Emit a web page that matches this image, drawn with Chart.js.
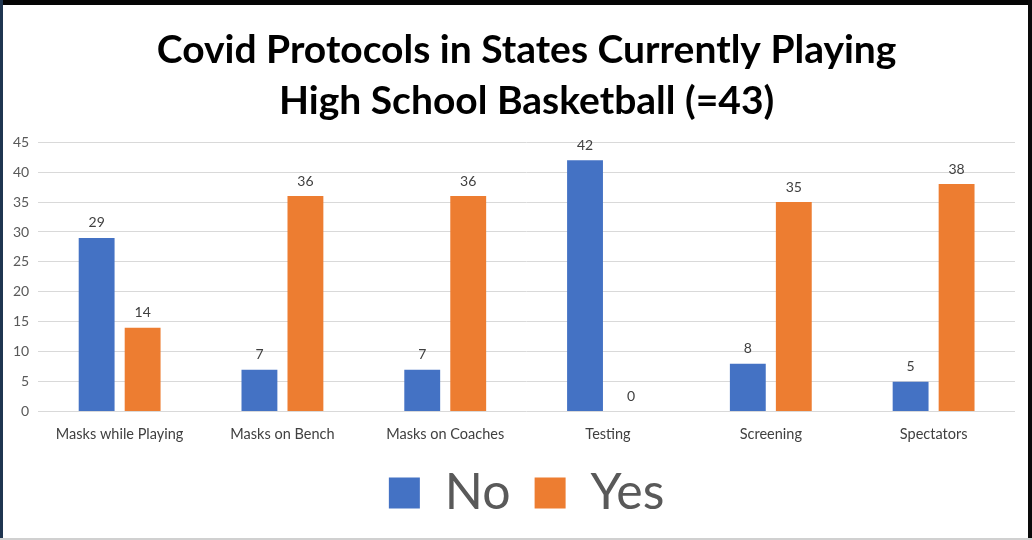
<!DOCTYPE html>
<html>
<head>
<meta charset="utf-8">
<script src="https://cdn.jsdelivr.net/npm/chart.js@4.4.1/dist/chart.umd.min.js"></script>
<style>
  html, body { margin: 0; padding: 0; background: #ffffff; }
  #wrap { position: relative; width: 1032px; height: 540px; overflow: hidden; background: #fff; }
  canvas { position: absolute; left: 0; top: 0; }
  .frame { position: absolute; }
</style>
</head>
<body>
<div id="wrap">
  <canvas id="c" width="1032" height="540"></canvas>
  <div class="frame" style="left:0;top:0;width:1032px;height:5px;background:#050505;"></div>
  <div class="frame" style="left:0;top:0;width:3px;height:540px;background:#1f3550;"></div>
  <div class="frame" style="right:0;top:0;width:4px;height:540px;background:#0a0a0a;"></div>
  <div class="frame" style="left:0;bottom:0;width:1032px;height:2px;background:#d0d0d0;"></div>
</div>
<script>
const categories = ["Masks while Playing", "Masks on Bench", "Masks on Coaches", "Testing", "Screening", "Spectators"];
const noValues = [29, 7, 7, 42, 8, 5];
const yesValues = [14, 36, 36, 0, 35, 38];
const seriesNames = ["No", "Yes"];
const titleLines = ["Covid Protocols in States Currently Playing", "High School Basketball (=43)"];

const FONT = "Lato, 'Open Sans', sans-serif";

const valueLabels = {
  id: 'valueLabels',
  afterDatasetsDraw(chart) {
    const ctx = chart.ctx;
    ctx.save();
    ctx.font = "14px " + FONT;
    ctx.fillStyle = "#404040";
    ctx.textAlign = "center";
    ctx.textBaseline = "bottom";
    chart.data.datasets.forEach((ds, i) => {
      const meta = chart.getDatasetMeta(i);
      meta.data.forEach((el, j) => {
        ctx.fillText(String(ds.data[j]), el.x, el.y - 8);
      });
    });
    ctx.restore();
  }
};

new Chart(document.getElementById('c'), {
  type: 'bar',
  data: {
    labels: categories,
    datasets: [
      { label: seriesNames[0], data: noValues, backgroundColor: '#4472C4', categoryPercentage: 0.565, barPercentage: 0.78 },
      { label: seriesNames[1], data: yesValues, backgroundColor: '#ED7D31', categoryPercentage: 0.565, barPercentage: 0.78 }
    ]
  },
  options: {
    responsive: false,
    animation: false,
    devicePixelRatio: 1,
    layout: { padding: { left: 4, right: 17, top: 0, bottom: 12 } },
    plugins: {
      title: {
        display: true,
        fullSize: false,
        text: titleLines,
        color: '#000000',
        font: { family: FONT, size: 39, weight: 'bold', lineHeight: 1.31 },
        padding: { top: 25, bottom: 15 }
      },
      legend: {
        display: true,
        fullSize: false,
        position: 'bottom',
        labels: {
          color: '#595959',
          font: { family: FONT, size: 50 },
          boxWidth: 31,
          boxHeight: 31,
          padding: 24
        }
      },
      tooltip: { enabled: false }
    },
    scales: {
      x: {
        grid: { display: false, drawTicks: false },
        border: { display: false },
        ticks: { color: '#404040', font: { family: FONT, size: 14.5 }, padding: 14, maxRotation: 0 },
        afterFit(scale) { scale.height = scale.height - 13; }
      },
      y: {
        min: 0, max: 45,
        grid: { color: '#D9D9D9', drawTicks: false, lineWidth: 1 },
        border: { display: false },
        ticks: { stepSize: 5, color: '#595959', font: { family: FONT, size: 14 }, padding: 9 }
      }
    }
  },
  plugins: [valueLabels]
});
</script>
</body>
</html>
